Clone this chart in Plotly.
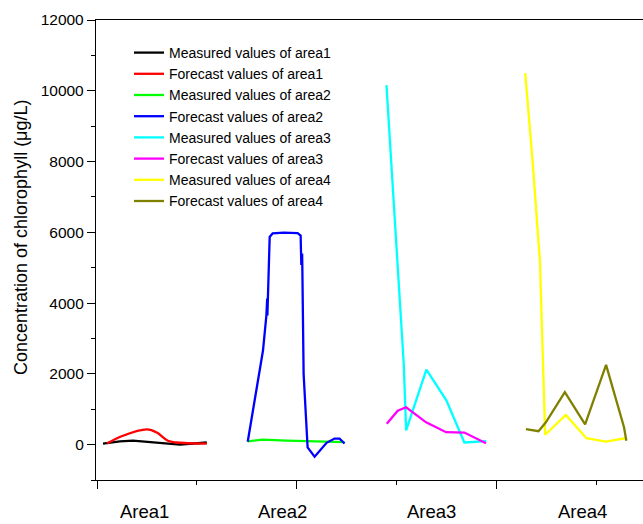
import plotly.graph_objects as go

# x positions are in axis units (major tick every 2, minor every 1)
area_labels = ["Area1", "Area2", "Area3", "Area4"]
area_label_x = [0.48, 1.855, 3.347, 4.865]

m1_x = [0.06, 0.23, 0.36, 0.60, 0.83, 1.10]
m1_y = [30, 90, 110, 60, 0, 60]
f1_x = [0.10, 0.26, 0.50, 0.60, 0.71, 0.80, 1.10]
f1_y = [30, 250, 430, 340, 110, 60, 30]

m2_x = [1.51, 1.66, 1.90, 2.10, 2.30, 2.48]
m2_y = [90, 140, 110, 90, 80, 70]
f2_x = [1.51, 1.663, 1.697, 1.705, 1.707, 1.73, 1.76, 1.87, 2.01, 2.04, 2.047, 2.055, 2.057,
        2.07, 2.11, 2.18, 2.30, 2.38, 2.43, 2.48]
f2_y = [80, 2660, 3650, 4130, 3650, 5870, 5970, 5990, 5980, 5910, 5080, 5400, 5050,
        2000, -80, -340, 50, 170, 170, 30]

m3_x = [2.90, 2.997, 3.073, 3.097, 3.30, 3.50, 3.53, 3.68, 3.90]
m3_y = [10160, 5870, 2280, 400, 2120, 1250, 1050, 60, 100]
f3_x = [2.903, 3.013, 3.097, 3.297, 3.497, 3.68, 3.897]
f3_y = [590, 960, 1055, 630, 350, 340, 40]

m4_x = [4.29, 4.363, 4.437, 4.49, 4.697, 4.903, 5.097, 5.29]
m4_y = [10500, 8040, 5210, 280, 840, 180, 85, 180]
f4_x = [4.297, 4.423, 4.497, 4.687, 4.89, 5.10, 5.28, 5.303]
f4_y = [440, 380, 630, 1480, 570, 2255, 490, 110]

series = [
    ("Measured values of area1", m1_x, m1_y, "#000000", "linear"),
    ("Forecast values of area1", f1_x, f1_y, "#FF0000", "spline"),
    ("Measured values of area2", m2_x, m2_y, "#00FF00", "linear"),
    ("Forecast values of area2", f2_x, f2_y, "#0000FF", "linear"),
    ("Measured values of area3", m3_x, m3_y, "#00FFFF", "linear"),
    ("Forecast values of area3", f3_x, f3_y, "#FF00FF", "linear"),
    ("Measured values of area4", m4_x, m4_y, "#FFFF00", "linear"),
    ("Forecast values of area4", f4_x, f4_y, "#808000", "linear"),
]

FONT = "Arial, 'Liberation Sans', sans-serif"

fig = go.Figure()
for name, xs, ys, col, shape in series:
    fig.add_trace(go.Scatter(x=xs, y=ys, mode="lines", name=name,
                             line=dict(color=col, width=2.3, shape=shape)))

W, H = 643, 524
L, R, T, B = 96, 0, 20, 44
pw, ph = W - L - R, H - T - B

annotations = []
for lab, lx in zip(area_labels, area_label_x):
    annotations.append(dict(text=lab, x=lx, xref="x", y=-0.068, yref="paper",
                            showarrow=False, xanchor="center", yanchor="middle",
                            font=dict(family=FONT, size=18.5, color="black")))
annotations.append(dict(text="Concentration of chlorophyll (μg/L)", textangle=-90,
                        x=(21 - L) / pw, xref="paper", y=1 - (237 - T) / ph, yref="paper",
                        showarrow=False, xanchor="center", yanchor="middle",
                        font=dict(family=FONT, size=18, color="black")))

fig.update_layout(
    width=W, height=H,
    margin=dict(l=L, r=R, t=T, b=B),
    paper_bgcolor="white", plot_bgcolor="white",
    font=dict(family=FONT, color="black"),
    showlegend=True,
    legend=dict(x=(129 - L) / pw, y=1 - (37 - T) / ph, xanchor="left", yanchor="top",
                bgcolor="rgba(0,0,0,0)", borderwidth=0,
                font=dict(family=FONT, size=14, color="black"),
                itemwidth=30, tracegroupgap=0),
    annotations=annotations,
    xaxis=dict(range=[-0.01, 5.47], showgrid=False, zeroline=False,
               showline=True, linecolor="black", linewidth=1.3, mirror=True,
               ticks="outside", ticklen=8, tickwidth=1.3, tickcolor="black",
               dtick=2, tick0=0, showticklabels=False,
               minor=dict(ticks="outside", ticklen=4, tickwidth=1.3, tickcolor="black",
                          dtick=1, showgrid=False)),
    yaxis=dict(range=[-1000, 12000], showgrid=False, zeroline=False,
               showline=True, linecolor="black", linewidth=1.3,
               ticks="outside", ticklen=8, tickwidth=1.3, tickcolor="black",
               dtick=2000, tick0=0, tickformat="d",
               tickfont=dict(family=FONT, size=15.5, color="black"),
               minor=dict(ticks="outside", ticklen=4, tickwidth=1.3, tickcolor="black",
                          dtick=1000, showgrid=False)),
)

fig.write_html("out.html")
